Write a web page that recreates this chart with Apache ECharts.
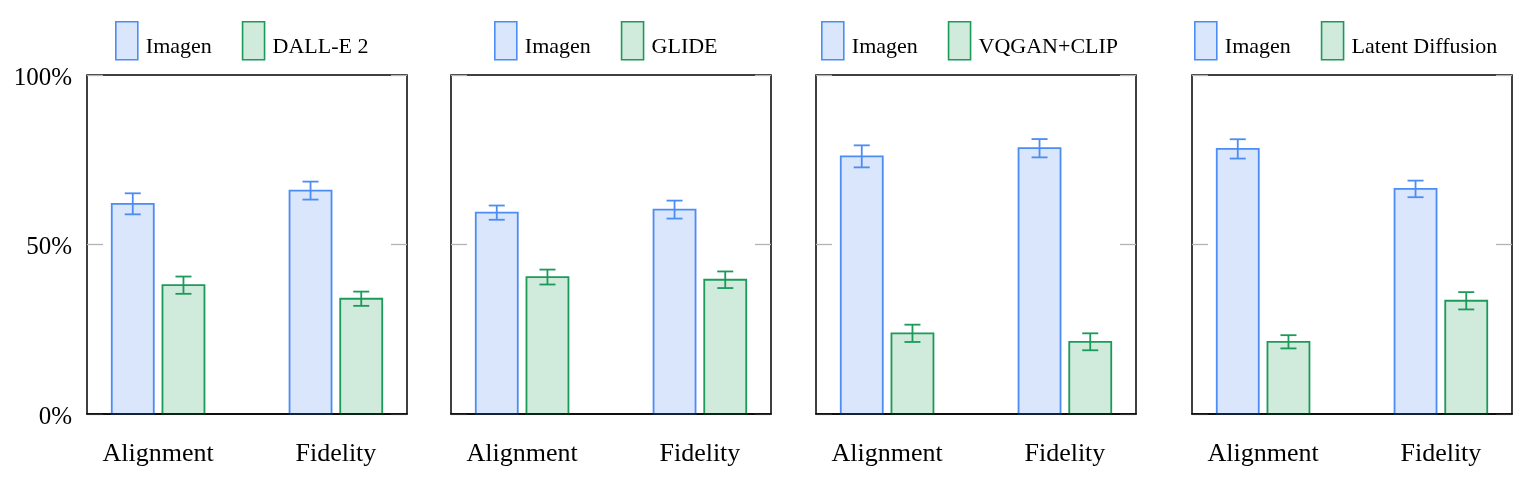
<!DOCTYPE html>
<html>
<head>
<meta charset="utf-8">
<script src="https://cdn.jsdelivr.net/npm/echarts@6/dist/echarts.min.js"></script>
<style>
  html, body { margin: 0; padding: 0; background: #fff; }
  #chart { width: 1526px; height: 485px; }
</style>
</head>
<body>
<div id="chart"></div>
<script>
// data (percent of raters preferring each model)
var categories = ['Alignment', 'Fidelity'];
var models = ['DALL-E 2', 'GLIDE', 'VQGAN+CLIP', 'Latent Diffusion'];
var imagenScores = [[62.0, 65.9], [59.4, 60.3], [76.0, 78.4], [78.2, 66.4]];
var imagenErrors = [[3.1, 2.65], [2.1, 2.65], [3.25, 2.7], [2.85, 2.45]];
var otherScores = [[38.0, 34.0], [40.4, 39.6], [23.8, 21.3], [21.3, 33.4]];
var otherErrors = [[2.55, 2.1], [2.2, 2.45], [2.55, 2.5], [1.95, 2.55]];
var yTicks = [0, 50, 100];

var blue = {fill: '#dae6fb', stroke: '#4b8cf5'};
var green = {fill: '#d0eadc', stroke: '#1b9a5a'};
var font = 'Liberation Serif';

var panelLeft = [87, 451, 816, 1192];
var legendLeft = [115, 494, 821, 1194];

function renderBar(colors, side) {
    return function (params, api) {
        var x = api.value(0), y = api.value(1), e = api.value(2);
        var base = api.coord([x, 0]);
        var top = api.coord([x, y]);
        var hi = api.coord([x, y + e]);
        var lo = api.coord([x, y - e]);
        var cx = base[0] + side * 25.35;
        var lw = 1.8;
        return {
            type: 'group',
            children: [
                {type: 'rect', shape: {x: cx - 21, y: top[1], width: 42, height: base[1] - top[1]},
                 style: {fill: colors.fill, stroke: colors.stroke, lineWidth: lw}},
                {type: 'line', shape: {x1: cx, y1: hi[1], x2: cx, y2: lo[1]},
                 style: {stroke: colors.stroke, lineWidth: lw}},
                {type: 'line', shape: {x1: cx - 8, y1: hi[1], x2: cx + 8, y2: hi[1]},
                 style: {stroke: colors.stroke, lineWidth: lw}},
                {type: 'line', shape: {x1: cx - 8, y1: lo[1], x2: cx + 8, y2: lo[1]},
                 style: {stroke: colors.stroke, lineWidth: lw}}
            ]
        };
    };
}

var grids = [], xAxes = [], yAxes = [], legends = [], series = [];

for (var p = 0; p < 4; p++) {
    grids.push({left: panelLeft[p], top: 75, width: 320, height: 339,
                show: true, borderColor: '#000', borderWidth: 1.5, backgroundColor: 'transparent'});

    xAxes.push({
        gridIndex: p, type: 'value', min: -0.4, max: 1.4, z: 5,
        axisLine: {show: true, onZero: false, lineStyle: {color: '#000', width: 1.5}},
        axisTick: {show: false},
        splitLine: {show: false},
        axisLabel: {
            customValues: [0, 1],
            formatter: function (v) { return categories[Math.round(v)]; },
            fontFamily: font, fontSize: 26, color: '#000', margin: 27
        }
    });

    var tickStyle = {show: true, inside: true, length: 16, lineStyle: {color: '#b3b3b3', width: 1.3}};
    yAxes.push({
        gridIndex: p, type: 'value', min: 0, max: 100, interval: 50, position: 'left',
        axisLine: {show: false, onZero: false},
        axisTick: tickStyle,
        splitLine: {show: false},
        axisLabel: {
            show: p === 0,
            customValues: yTicks,
            formatter: function (v) { return '{t|' + v + '%}'; },
            margin: 15,
            rich: {t: {fontFamily: font, fontSize: 25, color: '#000', padding: [6, 0, 0, 0]}}
        }
    });
    yAxes.push({
        gridIndex: p, type: 'value', min: 0, max: 100, interval: 50, position: 'right',
        axisLine: {show: false, onZero: false},
        axisTick: tickStyle,
        splitLine: {show: false},
        axisLabel: {show: false}
    });

    var imagenName = 'Imagen';
    var otherName = models[p];
    legends.push({
        left: legendLeft[p], top: 21, padding: 0,
        itemWidth: 22, itemHeight: 38, itemGap: 30,
        selectedMode: false,
        formatter: '{t|{name}}',
        textStyle: {
            fontFamily: font, fontSize: 22, color: '#000',
            rich: {t: {fontFamily: font, fontSize: 22, color: '#000', padding: [13, 0, 0, 3]}}
        },
        data: [
            {name: imagenName, icon: 'rect',
             itemStyle: {color: blue.fill, borderColor: blue.stroke, borderWidth: 1.6}},
            {name: otherName, icon: 'rect',
             itemStyle: {color: green.fill, borderColor: green.stroke, borderWidth: 1.6}}
        ]
    });

    var imagenData = [], otherData = [];
    for (var c = 0; c < categories.length; c++) {
        imagenData.push([c, imagenScores[p][c], imagenErrors[p][c]]);
        otherData.push([c, otherScores[p][c], otherErrors[p][c]]);
    }

    series.push({
        name: imagenName, type: 'custom', xAxisIndex: p, yAxisIndex: p * 2,
        renderItem: renderBar(blue, -1), data: imagenData,
        encode: {x: 0, y: 1}, itemStyle: {color: blue.fill}
    });
    series.push({
        name: otherName, type: 'custom', xAxisIndex: p, yAxisIndex: p * 2,
        renderItem: renderBar(green, 1), data: otherData,
        encode: {x: 0, y: 1}, itemStyle: {color: green.fill}
    });
}

var myChart = echarts.init(document.getElementById('chart'));
myChart.setOption({
    animation: false,
    backgroundColor: '#fff',
    grid: grids,
    xAxis: xAxes,
    yAxis: yAxes,
    legend: legends,
    series: series
});
</script>
</body>
</html>
